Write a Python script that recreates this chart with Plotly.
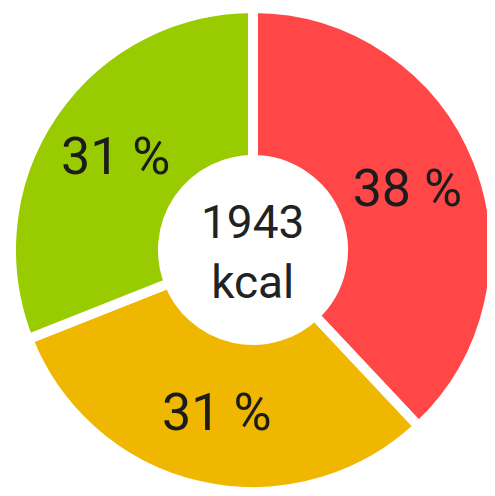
import plotly.graph_objects as go

categories = ["Red", "Orange", "Green"]
values = [38, 31, 31]
labels_text = ["38 %", "31 %", "31 %"]
colors = ["#FF4747", "#EFB700", "#99CC00"]
center_value = "1943"
center_unit = "kcal"

# page body has an 8px default margin, so the figure is sized to fit the window
W, H = 487, 488

fig = go.Figure(go.Pie(
    labels=categories,
    values=values,
    text=labels_text,
    textinfo="text",
    textposition="inside",
    insidetextorientation="horizontal",
    sort=False,
    direction="clockwise",
    rotation=0,
    hole=0.372,
    marker=dict(colors=colors, line=dict(color="white", width=10)),
    textfont=dict(family="Roboto, Inter, sans-serif", size=52, color="#1c1c1c"),
    domain=dict(x=[3 / W, 1.0], y=[4 / H, 1.0]),
    showlegend=False,
    hoverinfo="label+percent",
))

fig.add_annotation(
    text=f"{center_value}<br>{center_unit}",
    x=245 / W, y=1 - 244 / H, xref="paper", yref="paper",
    showarrow=False,
    align="center",
    font=dict(family="Roboto, Inter, sans-serif", size=46, color="#222222"),
)

fig.update_layout(
    width=W, height=H,
    margin=dict(l=0, r=0, t=0, b=0),
    paper_bgcolor="white",
    plot_bgcolor="white",
)

fig.write_html("out.html")
